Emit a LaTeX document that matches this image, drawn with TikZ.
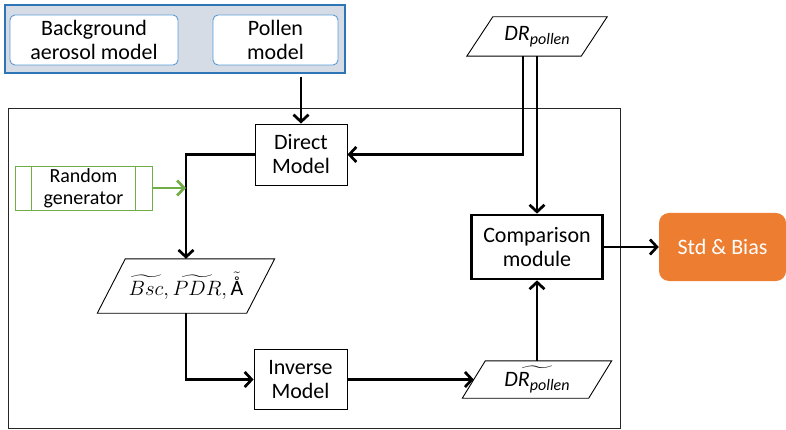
\documentclass[tikz,border=0pt]{standalone}
\usepackage{amsmath}
\usepackage{fontspec}
\setmainfont{Carlito}
\usetikzlibrary{arrows.meta}
\definecolor{grpborder}{HTML}{2E75B6}
\definecolor{grpfill}{HTML}{D6DCE5}
\definecolor{inborder}{HTML}{5B9BD5}
\definecolor{gengreen}{HTML}{70AD47}
\definecolor{stdorange}{HTML}{ED7D31}
\newcommand{\paral}[2]{\draw[paraline] ([xshift=#2]#1.north west) -- ([xshift=#2]#1.north east) -- ([xshift=-#2]#1.south east) -- ([xshift=-#2]#1.south west) -- cycle;}
\newcommand{\drp}{\textit{DR}\raisebox{-4.5pt}{\fontsize{16}{18}\selectfont\textit{pollen}}}
\tikzset{
  box/.style={draw=black, line width=0.9pt, inner sep=0pt, align=center},
  inbox/.style={draw=inborder, line width=0.9pt, fill=white, rounded corners=5pt, inner sep=0pt, align=center},
  paranode/.style={inner sep=0pt, align=center},
  paraline/.style={draw=black, line width=0.9pt},
  conn/.style={draw=black, line width=2.7pt, -{Straight Barb[length=7pt,width=15pt]}},
}
\begin{document}
\begin{tikzpicture}[x=1pt,y=-1pt,font=\fontsize{22}{24}\selectfont]
\useasboundingbox (0,0) rectangle (786,430);
% frame
\node[draw=black!85, line width=0.9pt, minimum width=612, minimum height=320, inner sep=0pt] (frame) at (314,268) {};
% group
\node[draw=grpborder, fill=grpfill, line width=1.3pt, minimum width=340, minimum height=68, inner sep=0pt] (grp) at (175,39) {};
\node[inbox, minimum width=168, minimum height=50] (bg) at (94,40) {Background\\aerosol model};
\node[inbox, minimum width=125, minimum height=50] (pol) at (275.5,40) {Pollen\\model};
% boxes
\node[box, minimum width=92, minimum height=61] (direct) at (301,154.5) {Direct\\Model};
\node[box, minimum width=93, minimum height=60] (inverse) at (300.5,379.5) {Inverse\\Model};
\node[box, line width=2.7pt, minimum width=131, minimum height=64] (comp) at (537,247) {Comparison\\module};
\node[fill=stdorange, rounded corners=10pt, minimum width=127, minimum height=68, inner sep=0pt, text=white] (std) at (722.5,247) {Std \& Bias};
% random generator
\node[draw=gengreen, line width=0.9pt, minimum width=137, minimum height=44, inner sep=0pt, align=center, font=\fontsize{20}{22}\selectfont] (rnd) at (83.5,188) {Random\\generator};
\draw[draw=gengreen, line width=0.9pt] ([xshift=17pt]rnd.north west) -- ([xshift=17pt]rnd.south west);
\draw[draw=gengreen, line width=0.9pt] ([xshift=-17pt]rnd.north east) -- ([xshift=-17pt]rnd.south east);
% parallelograms
\node[paranode, minimum width=114, minimum height=39] (dr) at (537,36.5) {\drp};
\paral{dr}{13pt}
\node[paranode, minimum width=149, minimum height=54] (bsc) at (186,286) {$\widetilde{Bsc},\widetilde{PDR},\tilde{\text{\AA}}$};
\paral{bsc}{14pt}
\node[paranode, minimum width=126, minimum height=37] (drt) at (537,379.5) {$\widetilde{\hbox{\drp}}$};
\paral{drt}{11.5pt}
% connectors
\draw[conn] ([yshift=-3pt]direct.north |- grp.south) -- (direct.north);
\draw[conn] ([xshift=-14pt]dr.south) |- (direct.east);
\draw[conn] (dr.south) -- (comp.north);
\draw[conn] (direct.west) -| (bsc.north);
\draw[draw=gengreen, line width=2.7pt, -{Straight Barb[length=7pt,width=15pt]}] (rnd.east) -- (rnd.east -| bsc.north);
\draw[conn] (bsc.south) |- (inverse.west);
\draw[conn] (inverse.east) -- (drt.west);
\draw[conn] (drt.north) -- (comp.south);
\draw[conn] (comp.east) -- (std.west);
\end{tikzpicture}
\end{document}
